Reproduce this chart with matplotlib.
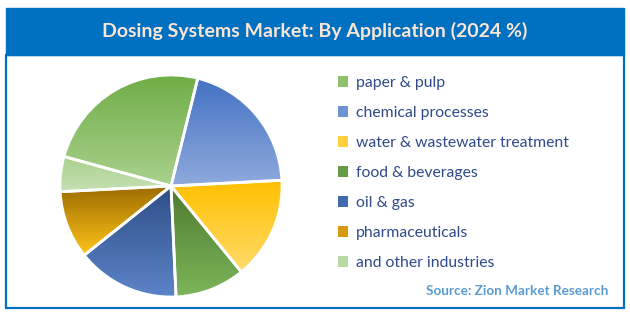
import numpy as np
import matplotlib
matplotlib.use("Agg")
import matplotlib.pyplot as plt
from matplotlib.patches import Rectangle
from matplotlib.colors import LinearSegmentedColormap

categories = ["paper & pulp", "chemical processes", "water & wastewater treatment",
              "food & beverages", "oil & gas", "pharmaceuticals", "and other industries"]
shares = [24.6, 20.3, 14.9, 10.2, 15.0, 9.9, 5.1]
top_colors = ["#70AD47", "#4472C4", "#FFC000", "#4E7A2F", "#2F4E87", "#9C6B00", "#A9D18E"]
bottom_colors = ["#A9D18E", "#8FAADC", "#FFDB6B", "#7DB65A", "#5B84C8", "#FFC41A", "#C6E0B4"]
legend_colors = ["#8DC16C", "#6F92D2", "#FFCF40", "#669B45", "#4069AE", "#D59A10", "#B8D9A2"]
title = "Dosing Systems Market: By Application (2024 %)"
source = "Source: Zion Market Research"

W, H = 630, 316
fig = plt.figure(figsize=(W / 100, H / 100), dpi=100)
fig.patch.set_facecolor("white")
font = "Lato"

def fx(px):
    return px / W

def fy(py):
    return 1 - py / H

# frame and title bar
blue = "#0070C0"
fig.patches.append(Rectangle((fx(6), fy(308)), fx(618), (308 - 55) / H, transform=fig.transFigure,
                             facecolor="white", edgecolor=blue, linewidth=1.6, zorder=-2))
fig.patches.append(Rectangle((fx(6), fy(55)), fx(618), (55 - 8) / H, transform=fig.transFigure,
                             facecolor=blue, edgecolor=blue, linewidth=1.0, zorder=-1))
fig.text(fx(315), fy(31), title, ha="center", va="center", color="#FBE5D6",
         fontsize=14, fontweight="bold", family=font)

# pie
cx, cy, r = 171, 186, 111
ax = fig.add_axes([fx(cx - r), fy(cy + r), 2 * r / W, 2 * r / H])
ax.set_zorder(3)
ax.patch.set_visible(False)
wedges, _ = ax.pie(shares, startangle=164.6, counterclock=False, radius=1,
                   colors=legend_colors,
                   wedgeprops=dict(edgecolor="white", linewidth=2))

for w, tc, bc in zip(wedges, top_colors, bottom_colors):
    th = np.radians(np.linspace(w.theta1, w.theta2, 200))
    ys = np.concatenate([[0.0], np.sin(th)])
    ymin, ymax = ys.min(), ys.max()
    cmap = LinearSegmentedColormap.from_list("g", [bc, tc])
    grad = np.linspace(0, 1, 256).reshape(-1, 1)
    im = ax.imshow(grad, cmap=cmap, origin="lower", extent=[-1, 1, ymin, ymax],
                   aspect="auto", zorder=2, interpolation="bilinear")
    im.set_clip_path(w)
    w.set_facecolor("none")
    w.set_zorder(5)
ax.set_xlim(-1, 1)
ax.set_ylim(-1, 1)
ax.set_aspect("equal")
ax.axis("off")

# legend
handles = [Rectangle((0, 0), 1, 1, facecolor=c, edgecolor="none") for c in legend_colors]
leg = fig.legend(handles, categories, loc="upper left", bbox_to_anchor=(fx(338), fy(76)),
                 frameon=False, handlelength=0.62, handleheight=0.62,
                 handletextpad=0.55, labelspacing=1.02, borderaxespad=0, borderpad=0,
                 prop=dict(family=font, size=11.3))
for t in leg.get_texts():
    t.set_color("#2E4A8A")

fig.text(fx(608), fy(291), source, ha="right", va="center", color="#5B9BD5",
         fontsize=9.7, fontweight="bold", family=font)

fig.savefig("out.png", dpi=100)
